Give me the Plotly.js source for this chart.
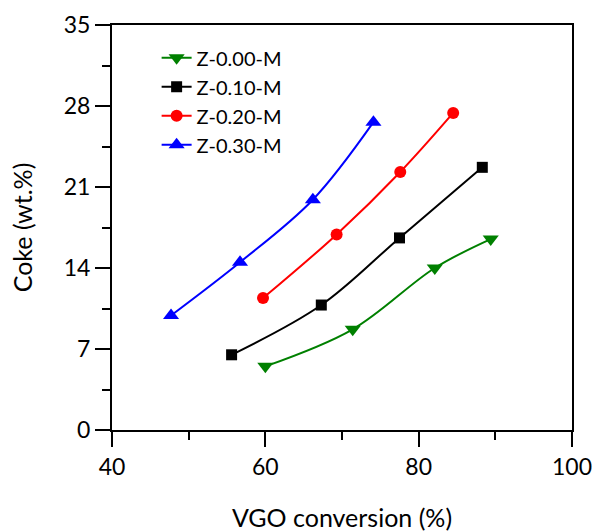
<!DOCTYPE html>
<html>
<head>
<meta charset="utf-8">
<script src="https://cdn.plot.ly/plotly-3.0.1.min.js"></script>
<style>html,body{margin:0;padding:0;background:#fff;}#chart{width:595px;height:532px;}</style>
</head>
<body>
<div id="chart"></div>
<script>
var seriesNames = ["Z-0.00-M", "Z-0.10-M", "Z-0.20-M", "Z-0.30-M"];
var x000 = [60.0, 71.4, 82.1, 89.4];
var y000 = [5.5, 8.7, 14.0, 16.5];
var x010 = [55.6, 67.3, 77.5, 88.3];
var y010 = [6.5, 10.8, 16.6, 22.7];
var x020 = [59.7, 69.3, 77.6, 84.5];
var y020 = [11.4, 16.9, 22.3, 27.4];
var x030 = [47.7, 56.7, 66.2, 74.1];
var y030 = [9.9, 14.5, 19.9, 26.6];
var xTicks = [40, 60, 80, 100];
var yTicks = [0, 7, 14, 21, 28, 35];

var colors = ["#008000", "#000000", "#ff0000", "#0000ff"];
var symbols = ["triangle-down", "square", "circle", "triangle-up"];
var sizes = [14, 11, 12, 14];
var xs = [x000, x010, x020, x030];
var ys = [y000, y010, y020, y030];

var traces = seriesNames.map(function(n, i) {
  return {
    x: xs[i], y: ys[i], name: n, type: "scatter", mode: "lines+markers",
    line: {color: colors[i], width: 2, shape: "spline"},
    marker: {color: colors[i], symbol: symbols[i], size: sizes[i]}
  };
});

var fontFam = "Lato, 'Open Sans', sans-serif";
var layout = {
  width: 595, height: 532,
  margin: {l: 112, r: 23, t: 25, b: 102},
  paper_bgcolor: "#fff", plot_bgcolor: "#fff",
  showlegend: true,
  legend: {x: 0.097, y: 0.967, xanchor: "left", yanchor: "top",
    font: {family: fontFam, size: 20, color: "#000"}, bgcolor: "rgba(0,0,0,0)",
    tracegroupgap: 0, itemsizing: "trace"},
  xaxis: {
    range: [40, 100], tickvals: xTicks, ticktext: xTicks.map(String),
    showline: true, linecolor: "#000", linewidth: 2, mirror: true,
    ticks: "outside", ticklen: 15, tickwidth: 2, tickcolor: "#000",
    minor: {dtick: 10, tick0: 40, ticks: "outside", ticklen: 8, tickwidth: 2, tickcolor: "#000"},
    showgrid: false, zeroline: false,
    tickfont: {family: fontFam, size: 23, color: "#000"},
    title: {text: "VGO conversion (%)", font: {family: fontFam, size: 25, color: "#000"}, standoff: 33}
  },
  yaxis: {
    range: [0, 35], tickvals: yTicks, ticktext: yTicks.map(String),
    ticksuffix: "\u00a0\u00a0",
    showline: true, linecolor: "#000", linewidth: 2, mirror: true,
    ticks: "outside", ticklen: 15, tickwidth: 2, tickcolor: "#000",
    minor: {dtick: 3.5, tick0: 0, ticks: "outside", ticklen: 8, tickwidth: 2, tickcolor: "#000"},
    showgrid: false, zeroline: false,
    tickfont: {family: fontFam, size: 23, color: "#000"},
    title: {text: "Coke (wt.%)", font: {family: fontFam, size: 25, color: "#000"}, standoff: 24}
  }
};
Plotly.newPlot("chart", traces, layout, {displayModeBar: false, staticPlot: true});
</script>
</body>
</html>
